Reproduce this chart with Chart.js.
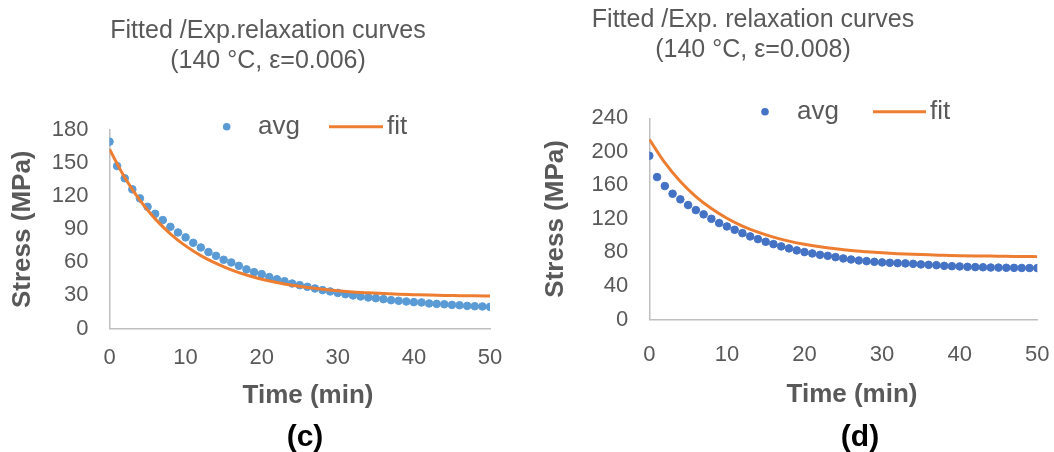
<!DOCTYPE html>
<html>
<head>
<meta charset="utf-8">
<title>Relaxation curves</title>
<script src="https://cdn.jsdelivr.net/npm/chart.js@4.4.1/dist/chart.umd.min.js"></script>
<style>
    body { margin: 0; background: #fff; }
    .panel { position: absolute; top: 0; width: 527px; height: 452px; }
</style>
</head>
<body>
<div class="panel" style="left:0"><canvas id="chartC" width="527" height="452"></canvas></div>
<div class="panel" style="left:527px"><canvas id="chartD" width="527" height="452"></canvas></div>
<script>
"use strict";

/* data */
var timeMin = [0, 1, 2, 3, 4, 5, 6, 7, 8, 9, 10, 11, 12, 13, 14, 15, 16, 17, 18, 19, 20,
    21, 22, 23, 24, 25, 26, 27, 28, 29, 30, 31, 32, 33, 34, 35, 36, 37, 38, 39, 40,
    41, 42, 43, 44, 45, 46, 47, 48, 49, 50];
var fitTimeMin = [0, 2, 4, 6, 8, 10, 12, 14, 16, 18, 20, 22, 24, 26, 28, 30, 32, 34, 36, 38, 40,
    42, 44, 46, 48, 50];

var avgC = [169.4, 147.3, 136.2, 126.2, 118, 110.4, 104, 98.3, 92.2, 87.1, 82.6, 77.7, 73.5,
    69.3, 65.9, 62.3, 59.9, 56.8, 53.6, 51.1, 49.3, 46.6, 44.7, 42.9, 40.8, 39.3, 37.8, 36.3,
    34.8, 33.6, 32.3, 31.1, 30, 29, 28.1, 27.5, 26.6, 25.7, 25.1, 24.5, 23.9, 23.6, 22.7, 22.3,
    22, 21.4, 21.1, 20.5, 20.2, 20, 19.6];
var fitC = [162.5, 136.9, 116.1, 99.4, 85.9, 74.9, 66.1, 59.0, 53.2, 48.5, 44.7, 41.7, 39.2,
    37.2, 35.6, 34.3, 33.2, 32.4, 31.7, 31.1, 30.7, 30.3, 30.0, 29.8, 29.6, 29.5];

var avgD = [195.3, 169.9, 159.2, 150, 143.3, 136.5, 130.5, 125.4, 120.1, 115, 111, 107, 103,
    99.1, 95.9, 92.7, 89.9, 87.2, 84.8, 82.4, 80.4, 78.8, 77.1, 75.9, 74.4, 72.8, 71.6, 70.4,
    69.6, 68.8, 68.1, 67.6, 67.2, 66.9, 66.4, 65.7, 65.2, 64.8, 64, 63.6, 63.3, 62.8, 62.5, 62.3,
    62, 61.9, 61.7, 61.6, 61.5, 61.4, 61.3];
var fitD = [215, 187.0, 164.6, 146.6, 132.3, 120.8, 111.5, 104.2, 98.2, 93.5, 89.7, 86.7, 84.3,
    82.3, 80.8, 79.5, 78.5, 77.7, 77.1, 76.6, 76.1, 75.8, 75.6, 75.3, 75.2, 75.0];

var xTicks = [0, 10, 20, 30, 40, 50];
var yTicksC = [0, 30, 60, 90, 120, 150, 180];
var yTicksD = [0, 40, 80, 120, 160, 200, 240];

var titleC = ['Fitted /Exp.relaxation curves', '(140 \u00B0C, \u03B5=0.006)'];
var titleD = ['Fitted /Exp. relaxation curves', '(140 \u00B0C, \u03B5=0.008)'];
var xTitle = 'Time (min)';
var yTitle = 'Stress (MPa)';

var FONT = '"Liberation Sans", Arial, sans-serif';
var GREY = '#595959';
var ORANGE = '#ed7d31';

Chart.defaults.font.family = FONT;
Chart.defaults.color = GREY;

/* title, legend, x axis title and panel letter */
var panelText = {
    id: 'panelText',
    afterDraw: function (chart, args, opts) {
        var ctx = chart.ctx;
        var avg = chart.data.datasets[0];
        var fit = chart.data.datasets[1];
        var lg = opts.legend;

        ctx.save();
        ctx.textBaseline = 'middle';

        ctx.textAlign = 'center';
        ctx.fillStyle = GREY;
        ctx.font = '25px ' + FONT;
        opts.title.forEach(function (line, i) {
            ctx.fillText(line, opts.titleX, opts.titleY + i * opts.titleGap);
        });

        ctx.font = 'bold 26px ' + FONT;
        ctx.fillText(xTitle, opts.xTitleX, opts.xTitleY);

        ctx.fillStyle = avg.backgroundColor;
        ctx.beginPath();
        ctx.arc(lg.dotX, lg.y, 3.8, 0, Math.PI * 2);
        ctx.fill();

        ctx.strokeStyle = fit.borderColor;
        ctx.lineWidth = 3;
        ctx.beginPath();
        ctx.moveTo(lg.lineX0, lg.y);
        ctx.lineTo(lg.lineX1, lg.y);
        ctx.stroke();

        ctx.textAlign = 'left';
        ctx.fillStyle = GREY;
        ctx.font = '26px ' + FONT;
        ctx.fillText(avg.label, lg.avgX, lg.y);
        ctx.fillText(fit.label, lg.fitX, lg.y);

        ctx.textAlign = 'center';
        ctx.fillStyle = '#000';
        ctx.font = 'bold 30px ' + FONT;
        ctx.fillText(opts.letter, opts.letterX, opts.letterY);
        ctx.restore();
    }
};

function toPoints(xs, ys) {
    return xs.map(function (x, i) { return { x: x, y: ys[i] }; });
}

function fixedTicks(list) {
    return function (scale) {
        scale.ticks = list.map(function (v) { return { value: v }; });
    };
}

function buildChart(id, avgData, fitData, yTicks, avgColor, box, decor) {
    return new Chart(document.getElementById(id), {
        type: 'scatter',
        data: {
            datasets: [{
                label: 'avg',
                data: toPoints(timeMin, avgData),
                backgroundColor: avgColor,
                borderColor: avgColor,
                pointRadius: 3.8,
                pointHoverRadius: 3.8,
                order: 1
            }, {
                type: 'line',
                label: 'fit',
                data: toPoints(fitTimeMin, fitData),
                borderColor: ORANGE,
                backgroundColor: ORANGE,
                borderWidth: 3,
                pointRadius: 0,
                fill: false,
                cubicInterpolationMode: 'monotone',
                order: 0
            }]
        },
        options: {
            responsive: false,
            animation: false,
            layout: {
                padding: { top: box.top, right: box.right, left: 0, bottom: 0 }
            },
            plugins: {
                legend: { display: false },
                tooltip: { enabled: false },
                panelText: decor
            },
            scales: {
                x: {
                    type: 'linear',
                    min: xTicks[0],
                    max: xTicks[xTicks.length - 1],
                    afterBuildTicks: fixedTicks(xTicks),
                    afterFit: function (s) {
                        s.height = box.xHeight;
                        s.paddingLeft = 0;
                        s.paddingRight = 0;
                    },
                    grid: { display: false, drawTicks: false },
                    border: { color: '#bfbfbf', width: 1.5 },
                    ticks: { color: GREY, font: { size: 22 }, padding: box.xPad, maxRotation: 0 }
                },
                y: {
                    min: yTicks[0],
                    max: yTicks[yTicks.length - 1],
                    afterBuildTicks: fixedTicks(yTicks),
                    afterFit: function (s) { s.width = box.yWidth; },
                    grid: { display: false, drawTicks: false },
                    border: { color: '#bfbfbf', width: 1.5 },
                    ticks: { color: GREY, font: { size: 22 }, padding: 21 },
                    title: {
                        display: true,
                        text: yTitle,
                        color: GREY,
                        font: { size: 26, weight: 'bold' },
                        padding: { top: box.yTitlePad, bottom: 0 }
                    }
                }
            }
        },
        plugins: [panelText]
    });
}

/* (c) 140 C, strain 0.006 */
buildChart('chartC', avgC, fitC, yTicksC, '#5b9bd5',
    { top: 130, right: 37, yWidth: 109.5, xHeight: 123.5, xPad: 16.6, yTitlePad: 7.4 },
    {
        title: titleC, titleX: 268, titleY: 31, titleGap: 30,
        xTitleX: 308, xTitleY: 395.5,
        legend: { y: 126.7, dotX: 226.7, avgX: 258, lineX0: 329, lineX1: 383, fitX: 387 },
        letter: '(c)', letterX: 305, letterY: 438
    });

/* (d) 140 C, strain 0.008 */
buildChart('chartD', avgD, fitD, yTicksD, '#4472c4',
    { top: 118.3, right: 16.7, yWidth: 122.3, xHeight: 132.5, xPad: 22.3, yTitlePad: 13.4 },
    {
        title: titleD, titleX: 226, titleY: 20, titleGap: 30,
        xTitleX: 325, xTitleY: 395,
        legend: { y: 111.7, dotX: 238, avgX: 270, lineX0: 346, lineX1: 399, fitX: 403 },
        letter: '(d)', letterX: 333, letterY: 438
    });
</script>
</body>
</html>
